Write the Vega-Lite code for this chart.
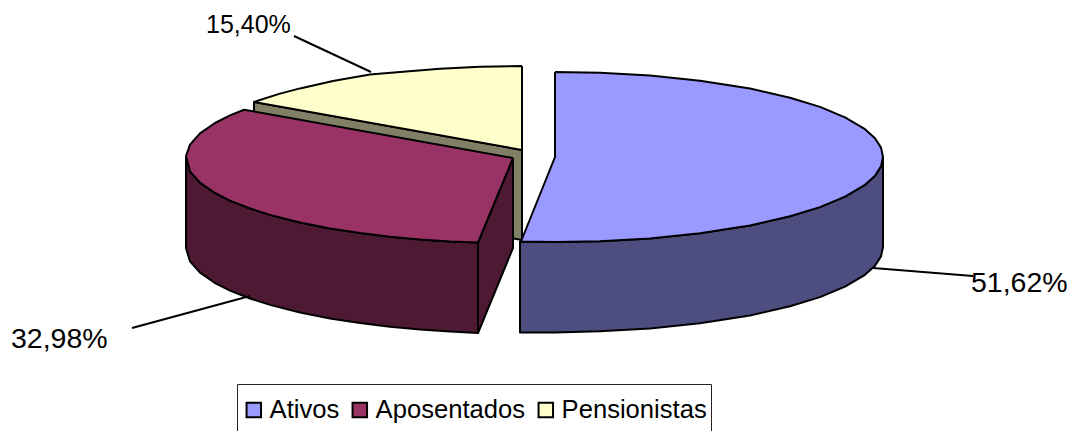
{"$schema":"https://vega.github.io/schema/vega-lite/v6.json","width":1072,"height":431,"padding":0,"autosize":{"type":"none"},"background":"white","config":{"view":{"stroke":null}},
"datasets":{
"tops":[
{"slice":"Pensionistas","n":1,"x":522,"y":66},{"slice":"Pensionistas","n":2,"x":480,"y":66.7},{"slice":"Pensionistas","n":3,"x":440,"y":68.7},{"slice":"Pensionistas","n":4,"x":400,"y":72},{"slice":"Pensionistas","n":5,"x":370,"y":74.5},{"slice":"Pensionistas","n":6,"x":333,"y":81},{"slice":"Pensionistas","n":7,"x":300,"y":88.4},{"slice":"Pensionistas","n":8,"x":280,"y":93.6},{"slice":"Pensionistas","n":9,"x":260,"y":100},{"slice":"Pensionistas","n":10,"x":254,"y":102},{"slice":"Pensionistas","n":11,"x":522,"y":150},{"slice":"Pensionistas","n":12,"x":522,"y":66},
{"slice":"Aposentados","n":1,"x":513,"y":158},{"slice":"Aposentados","n":2,"x":244,"y":109.7},{"slice":"Aposentados","n":3,"x":230,"y":115.4},{"slice":"Aposentados","n":4,"x":215,"y":123},{"slice":"Aposentados","n":5,"x":200,"y":133.4},{"slice":"Aposentados","n":6,"x":190,"y":144.7},{"slice":"Aposentados","n":7,"x":186,"y":156},{"slice":"Aposentados","n":8,"x":190,"y":171.3},{"slice":"Aposentados","n":9,"x":200,"y":182.6},{"slice":"Aposentados","n":10,"x":215,"y":193},{"slice":"Aposentados","n":11,"x":230,"y":200.6},{"slice":"Aposentados","n":12,"x":250,"y":208.5},{"slice":"Aposentados","n":13,"x":270,"y":214.9},{"slice":"Aposentados","n":14,"x":300,"y":222.5},{"slice":"Aposentados","n":15,"x":330,"y":228.4},{"slice":"Aposentados","n":16,"x":360,"y":233},{"slice":"Aposentados","n":17,"x":390,"y":236.8},{"slice":"Aposentados","n":18,"x":420,"y":239.5},{"slice":"Aposentados","n":19,"x":450,"y":241.4},{"slice":"Aposentados","n":20,"x":478,"y":242.5},{"slice":"Aposentados","n":21,"x":513,"y":158},
{"slice":"Ativos","n":1,"x":555,"y":72},{"slice":"Ativos","n":2,"x":600,"y":72.8},{"slice":"Ativos","n":3,"x":650,"y":75.6},{"slice":"Ativos","n":4,"x":700,"y":80.8},{"slice":"Ativos","n":5,"x":750,"y":88.6},{"slice":"Ativos","n":6,"x":790,"y":97.7},{"slice":"Ativos","n":7,"x":820,"y":106.9},{"slice":"Ativos","n":8,"x":845,"y":117.3},{"slice":"Ativos","n":9,"x":865,"y":129.2},{"slice":"Ativos","n":10,"x":875,"y":138.3},{"slice":"Ativos","n":11,"x":881,"y":147.6},{"slice":"Ativos","n":12,"x":883,"y":157},{"slice":"Ativos","n":13,"x":881,"y":166.4},{"slice":"Ativos","n":14,"x":875,"y":175.7},{"slice":"Ativos","n":15,"x":865,"y":184.8},{"slice":"Ativos","n":16,"x":845,"y":196.7},{"slice":"Ativos","n":17,"x":820,"y":207.1},{"slice":"Ativos","n":18,"x":790,"y":216.3},{"slice":"Ativos","n":19,"x":750,"y":225.4},{"slice":"Ativos","n":20,"x":700,"y":233.2},{"slice":"Ativos","n":21,"x":650,"y":238.4},{"slice":"Ativos","n":22,"x":600,"y":241.2},{"slice":"Ativos","n":23,"x":555,"y":242},{"slice":"Ativos","n":24,"x":521,"y":241.5},{"slice":"Ativos","n":25,"x":555,"y":157},{"slice":"Ativos","n":26,"x":555,"y":72}
],
"sides":[
{"part":"Pensionistas interior","n":1,"x":254,"y":102},{"part":"Pensionistas interior","n":2,"x":522,"y":150},{"part":"Pensionistas interior","n":3,"x":522,"y":240},{"part":"Pensionistas interior","n":4,"x":254,"y":192},{"part":"Pensionistas interior","n":5,"x":254,"y":102},
{"part":"Aposentados interior","n":1,"x":513,"y":158},{"part":"Aposentados interior","n":2,"x":513,"y":248},{"part":"Aposentados interior","n":3,"x":478,"y":333},{"part":"Aposentados interior","n":4,"x":478,"y":242.5},{"part":"Aposentados interior","n":5,"x":513,"y":158},
{"part":"Aposentados borda","n":1,"x":186,"y":156},{"part":"Aposentados borda","n":2,"x":190,"y":171.3},{"part":"Aposentados borda","n":3,"x":200,"y":182.6},{"part":"Aposentados borda","n":4,"x":215,"y":193},{"part":"Aposentados borda","n":5,"x":230,"y":200.6},{"part":"Aposentados borda","n":6,"x":250,"y":208.5},{"part":"Aposentados borda","n":7,"x":270,"y":214.9},{"part":"Aposentados borda","n":8,"x":300,"y":222.5},{"part":"Aposentados borda","n":9,"x":330,"y":228.4},{"part":"Aposentados borda","n":10,"x":360,"y":233},{"part":"Aposentados borda","n":11,"x":390,"y":236.8},{"part":"Aposentados borda","n":12,"x":420,"y":239.5},{"part":"Aposentados borda","n":13,"x":450,"y":241.4},{"part":"Aposentados borda","n":14,"x":478,"y":242.5},{"part":"Aposentados borda","n":15,"x":478,"y":333},{"part":"Aposentados borda","n":16,"x":450,"y":331.4},{"part":"Aposentados borda","n":17,"x":420,"y":329.5},{"part":"Aposentados borda","n":18,"x":390,"y":326.8},{"part":"Aposentados borda","n":19,"x":360,"y":323},{"part":"Aposentados borda","n":20,"x":330,"y":318.4},{"part":"Aposentados borda","n":21,"x":300,"y":312.5},{"part":"Aposentados borda","n":22,"x":270,"y":304.9},{"part":"Aposentados borda","n":23,"x":250,"y":298.5},{"part":"Aposentados borda","n":24,"x":230,"y":290.6},{"part":"Aposentados borda","n":25,"x":215,"y":283},{"part":"Aposentados borda","n":26,"x":200,"y":272.6},{"part":"Aposentados borda","n":27,"x":190,"y":261.3},{"part":"Aposentados borda","n":28,"x":186,"y":248},{"part":"Aposentados borda","n":29,"x":186,"y":156},
{"part":"Ativos borda","n":1,"x":883,"y":157},{"part":"Ativos borda","n":2,"x":881,"y":166.4},{"part":"Ativos borda","n":3,"x":875,"y":175.7},{"part":"Ativos borda","n":4,"x":865,"y":184.8},{"part":"Ativos borda","n":5,"x":845,"y":196.7},{"part":"Ativos borda","n":6,"x":820,"y":207.1},{"part":"Ativos borda","n":7,"x":790,"y":216.3},{"part":"Ativos borda","n":8,"x":750,"y":225.4},{"part":"Ativos borda","n":9,"x":700,"y":233.2},{"part":"Ativos borda","n":10,"x":650,"y":238.4},{"part":"Ativos borda","n":11,"x":600,"y":241.2},{"part":"Ativos borda","n":12,"x":555,"y":242},{"part":"Ativos borda","n":13,"x":520,"y":241.5},{"part":"Ativos borda","n":14,"x":520,"y":332.5},{"part":"Ativos borda","n":15,"x":555,"y":332.5},{"part":"Ativos borda","n":16,"x":600,"y":331.2},{"part":"Ativos borda","n":17,"x":650,"y":328.4},{"part":"Ativos borda","n":18,"x":700,"y":323.2},{"part":"Ativos borda","n":19,"x":750,"y":315.4},{"part":"Ativos borda","n":20,"x":790,"y":306.3},{"part":"Ativos borda","n":21,"x":820,"y":297.1},{"part":"Ativos borda","n":22,"x":845,"y":286.7},{"part":"Ativos borda","n":23,"x":865,"y":274.8},{"part":"Ativos borda","n":24,"x":875,"y":265.7},{"part":"Ativos borda","n":25,"x":881,"y":256.4},{"part":"Ativos borda","n":26,"x":883,"y":247},{"part":"Ativos borda","n":27,"x":883,"y":157}
],
"leaders":[
{"slice":"Ativos","n":1,"x":873,"y":268},{"slice":"Ativos","n":2,"x":973,"y":276},
{"slice":"Aposentados","n":1,"x":132,"y":328},{"slice":"Aposentados","n":2,"x":250,"y":296},
{"slice":"Pensionistas","n":1,"x":294,"y":36},{"slice":"Pensionistas","n":2,"x":371,"y":72}
],
"labels":[
{"slice":"Ativos","label":"51,62%","x":971,"y":292},
{"slice":"Aposentados","label":"32,98%","x":11,"y":348},
{"slice":"Pensionistas","label":"15,40%","x":206,"y":33}
]},
"layer":[
{"data":{"name":"sides"},"mark":{"type":"line","stroke":"black","strokeWidth":2,"strokeJoin":"round"},
"encoding":{"x":{"field":"x","type":"quantitative","axis":null,"scale":{"domain":[0,1072],"nice":false,"zero":false}},"y":{"field":"y","type":"quantitative","axis":null,"scale":{"domain":[431,0],"nice":false,"zero":false}},"order":{"field":"n","type":"ordinal"},
"fill":{"field":"part","type":"nominal","legend":null,"sort":null,"scale":{"domain":["Pensionistas interior","Aposentados interior","Aposentados borda","Ativos borda"],"range":["#808066","#4d1933","#4d1933","#4d4d80"]}}}},
{"data":{"name":"tops"},"mark":{"type":"line","stroke":"black","strokeWidth":2,"strokeJoin":"round"},
"encoding":{"x":{"field":"x","type":"quantitative","axis":null},"y":{"field":"y","type":"quantitative","axis":null},"order":{"field":"n","type":"ordinal"},
"fill":{"field":"slice","type":"nominal","scale":{"domain":["Ativos","Aposentados","Pensionistas"],"range":["#9999ff","#993366","#ffffcc"]},
"legend":{"title":null,"orient":"none","legendX":237,"legendY":384,"direction":"horizontal","columns":3,"strokeColor":"#222222","padding":4,"clipHeight":44,"symbolType":"square","symbolSize":210,"symbolStrokeColor":"black","symbolStrokeWidth":2,"symbolOpacity":1,"labelFont":"Liberation Sans","labelFontSize":25.6,"labelColor":"black","labelOffset":3,"columnPadding":7,"labelLimit":300,"values":["Ativos","Aposentados","Pensionistas"]}}}},
{"data":{"name":"leaders"},"mark":{"type":"line","stroke":"black","strokeWidth":2},
"encoding":{"x":{"field":"x","type":"quantitative","axis":null},"y":{"field":"y","type":"quantitative","axis":null},"order":{"field":"n","type":"ordinal"},"detail":{"field":"slice"}}},
{"data":{"name":"labels"},"transform":[{"filter":"datum.slice!=='Pensionistas'"}],"mark":{"type":"text","font":"Liberation Sans","fontSize":28.5,"align":"left","baseline":"alphabetic","color":"black"},
"encoding":{"x":{"field":"x","type":"quantitative","axis":null},"y":{"field":"y","type":"quantitative","axis":null},"text":{"field":"label"}}},
{"data":{"name":"labels"},"transform":[{"filter":"datum.slice==='Pensionistas'"}],"mark":{"type":"text","font":"Liberation Sans","fontSize":25,"align":"left","baseline":"alphabetic","color":"black"},
"encoding":{"x":{"field":"x","type":"quantitative","axis":null},"y":{"field":"y","type":"quantitative","axis":null},"text":{"field":"label"}}}
],
"resolve":{"scale":{"fill":"independent"}}}
